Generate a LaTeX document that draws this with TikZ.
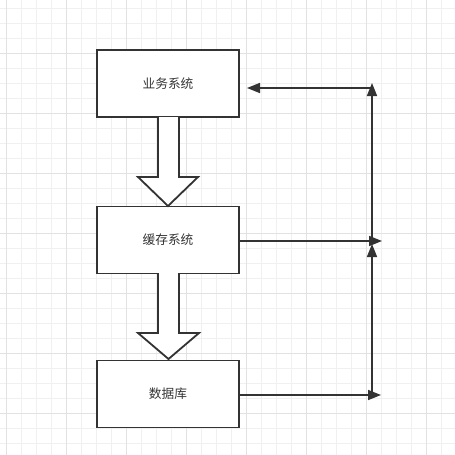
\documentclass[tikz,border=0pt]{standalone}
\usepackage{fontspec}
\newfontfamily\cjk{Noto Sans CJK SC}
\usetikzlibrary{arrows.meta}
\definecolor{ink}{HTML}{333333}
\definecolor{gridminor}{HTML}{F0F0F0}
\definecolor{gridmajor}{HTML}{E2E2E2}
\begin{document}
\begin{tikzpicture}[x=1pt,y=-1pt,
  box/.style={draw=ink,line width=1.8pt,fill=white,minimum width=142pt,minimum height=67pt,inner sep=0pt,font=\cjk\fontsize{12.7pt}{14pt}\selectfont,text=ink},
  blockarrow/.style={draw=ink,line width=1.8pt,fill=white,line join=miter},
  link/.style={draw=ink,line width=1.7pt,-{Triangle[length=13pt,width=10pt]}}]
\useasboundingbox (0,0) rectangle (455,455);
\fill[white] (0,0) rectangle (455,455);
% minor grid
\foreach \k in {0,...,30} {
  \draw[gridminor,line width=0.9pt] ({6.7+15*\k},0) -- ({6.7+15*\k},455);
  \draw[gridminor,line width=0.9pt] (0,{8.3+15*\k}) -- (455,{8.3+15*\k});
}
% major grid
\foreach \k in {0,...,7} {
  \draw[gridmajor,line width=0.9pt] ({6.7+60*\k},0) -- ({6.7+60*\k},455);
  \draw[gridmajor,line width=0.9pt] (0,{-6.7+60*\k}) -- (455,{-6.7+60*\k});
}
% boxes
\node[box] (biz) at (168,83.5) {业务系统};
\node[box] (cache) at (168,240) {缓存系统};
\node[box] (db) at (168,394) {数据库};
% block arrows
\draw[blockarrow] (158,117) -- (158,177) -- (138,177) -- (168,206) -- (198,177) -- (179,177) -- (179,117);
\draw[blockarrow] (158,273) -- (158,333) -- (138,333) -- (168.5,359) -- (199,333) -- (179,333) -- (179,273);
% connectors
\coordinate (dbend) at (381,395);
\coordinate (dbcorner) at (372,395);
\coordinate (cacheend) at (382,241);
\coordinate (cachecorner) at (372,241);
\coordinate (midtip) at (372,244);
\coordinate (topcorner) at (372,88);
\coordinate (toptip) at (372,83);
\coordinate (bizend) at (247,88);
\draw[link] (db.east |- dbend) -- (dbend);
\draw[link] (dbcorner) -- (midtip);
\draw[link] (cache.east |- cacheend) -- (cacheend);
\draw[link] (cachecorner) -- (toptip);
\draw[link] (topcorner) -- (bizend);
\end{tikzpicture}
\end{document}
